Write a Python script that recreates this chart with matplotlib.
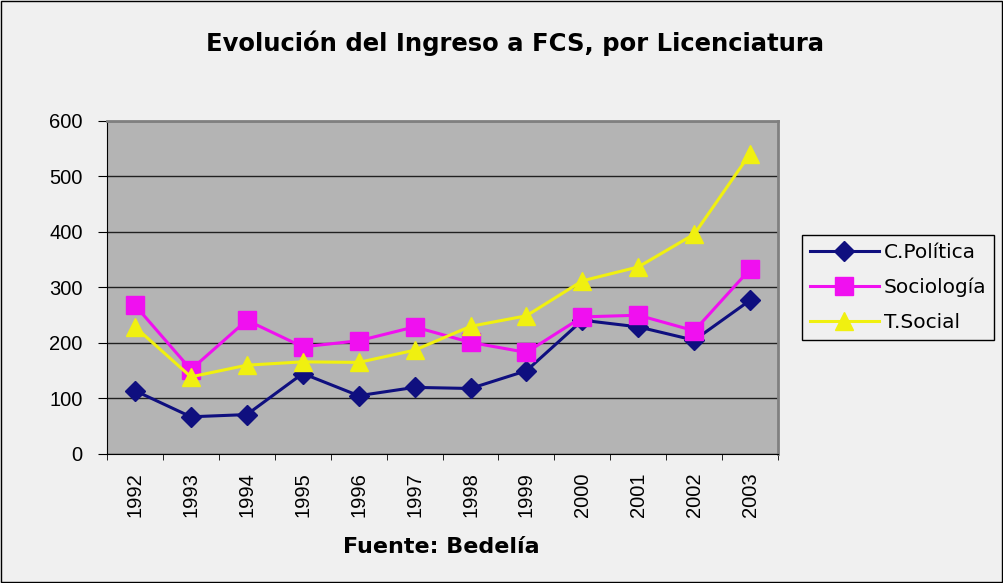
import matplotlib
matplotlib.use("Agg")
import matplotlib.pyplot as plt
from matplotlib.patches import Rectangle

years = ["1992", "1993", "1994", "1995", "1996", "1997",
         "1998", "1999", "2000", "2001", "2002", "2003"]
c_politica = [114, 67, 71, 145, 105, 120, 118, 150, 241, 229, 205, 277]
sociologia = [268, 152, 241, 193, 204, 229, 201, 183, 247, 250, 222, 333]
t_social = [229, 139, 160, 166, 165, 187, 230, 249, 312, 337, 396, 541]

plt.rcParams["font.family"] = ["Liberation Sans", "DejaVu Sans"]
wide = ["DejaVu Sans"]

fig = plt.figure(figsize=(10.04, 5.83), dpi=100)
fig.patch.set_facecolor("#f0f0f0")
fig.patches.append(Rectangle((0.001, 0.002), 0.997, 0.996, transform=fig.transFigure,
                             fill=False, edgecolor="black", linewidth=1))

ax = fig.add_axes([0.1066, 0.2213, 0.6684, 0.5712])
ax.set_facecolor("#b4b4b4")

x = list(range(len(years)))
ax.plot(x, c_politica, color="#0f0f7f", linewidth=2.2, marker="D", markersize=10,
        label="C.Política", zorder=3)
ax.plot(x, sociologia, color="#f010f0", linewidth=2.2, marker="s", markersize=13,
        label="Sociología", zorder=3)
ax.plot(x, t_social, color="#f0f010", linewidth=2.2, marker="^", markersize=13,
        label="T.Social", zorder=3)

ax.set_xlim(-0.5, len(years) - 0.5)
ax.set_ylim(0, 600)
ax.set_yticks(range(0, 601, 100))
ax.yaxis.grid(True, color="#202020", linewidth=1)
ax.set_axisbelow(True)

ax.set_xticks(x)
ax.set_xticklabels(years, rotation=90)
ax.set_xticks([i - 0.5 for i in range(len(years) + 1)], minor=True)
ax.tick_params(axis="x", which="major", length=0, pad=13, labelsize=14.5)
ax.tick_params(axis="x", which="minor", length=4, color="black", direction="out")
ax.tick_params(axis="y", length=6.5, direction="out", pad=11, labelsize=14.5)

for side in ("top", "right"):
    ax.spines[side].set_color("#808080")
    ax.spines[side].set_linewidth(2)
ax.spines["left"].set_color("black")
ax.spines["bottom"].set_color("black")

fig.text(0.5125, 0.9125, "Evolución del Ingreso a FCS, por Licenciatura",
         ha="center", va="baseline", fontsize=17.5, fontweight="bold", family=wide)
fig.text(0.44, 0.0515, "Fuente: Bedelía", ha="center", va="baseline",
         fontsize=16, fontweight="bold", family=wide)

leg = fig.legend(loc="upper left", bbox_to_anchor=(0.799, 0.597),
                 prop={"family": wide, "size": 14.5},
                 frameon=True, fancybox=False, edgecolor="black",
                 facecolor="#f0f0f0", framealpha=1, handlelength=3.4,
                 borderpad=0.4, labelspacing=0.78, handletextpad=0.25,
                 borderaxespad=0)
leg.get_frame().set_linewidth(1)

fig.savefig("out.png", dpi=100, facecolor=fig.get_facecolor())
